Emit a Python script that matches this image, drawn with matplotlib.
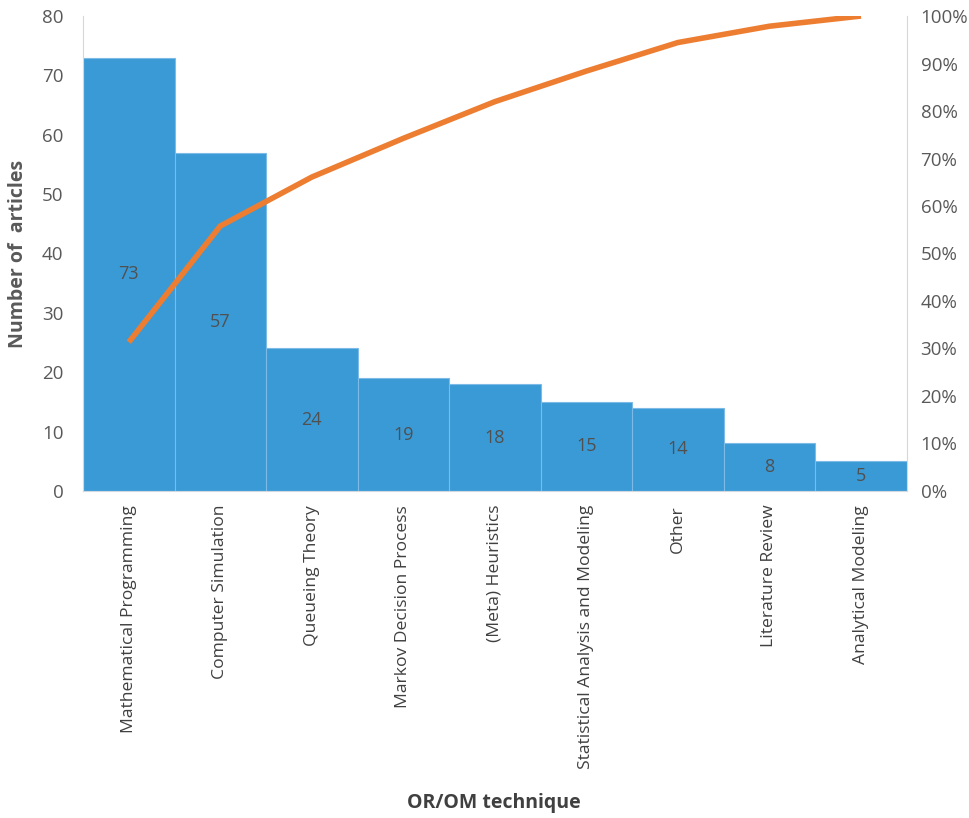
import matplotlib
matplotlib.use('Agg')
import matplotlib.pyplot as plt
import numpy as np
from matplotlib.ticker import PercentFormatter

plt.rcParams['font.family'] = ['Open Sans', 'DejaVu Sans']

##数据
techniques = ['Mathematical Programming', 'Computer Simulation', 'Queueing Theory',
              'Markov Decision Process', '(Meta) Heuristics',
              'Statistical Analysis and Modeling', 'Other', 'Literature Review',
              'Analytical Modeling']
articles = [73, 57, 24, 19, 18, 15, 14, 8, 5]

cum_share = np.cumsum(articles) / sum(articles)
x = np.arange(len(techniques))

fig = plt.figure(figsize=(9.69, 8.18), dpi=100)
ax = fig.add_axes([0.0857, 0.3998, 0.850, 0.5806])

ax.bar(x, articles, width=1.0, color='#3a9ad6', edgecolor='#7dbbe6', linewidth=0.8)
for xi, v in zip(x, articles):
    ax.text(xi, v / 2.0, str(v), ha='center', va='center', fontsize=13, color='#505050')

ax.set_xlim(-0.5, len(techniques) - 0.5)
ax.set_ylim(0, 80)
ax.set_yticks(range(0, 81, 10))
ax.set_xticks(x)
ax.set_xticklabels(techniques, rotation=90, fontsize=12.6, color='#404040')
ax.tick_params(axis='y', labelsize=13.5, colors='#595959', length=0, pad=14)
ax.tick_params(axis='x', length=0, pad=10)
ax.set_ylabel('Number of  articles', fontsize=14, fontweight='bold', color='#595959', labelpad=10)
fig.text(0.51, 1 - 803 / 818, 'OR/OM technique', fontsize=14, fontweight='bold',
         color='#404040', ha='center', va='center')

for s in ['top', 'right']:
    ax.spines[s].set_visible(False)
for s in ['left', 'bottom']:
    ax.spines[s].set_color('#d0d8e0')

ax2 = ax.twinx()
ax2.plot(x, cum_share, color='#ed7d31', linewidth=4, solid_capstyle='butt')
ax2.set_ylim(0, 1)
ax2.set_yticks(np.arange(0, 1.01, 0.1))
ax2.yaxis.set_major_formatter(PercentFormatter(1.0, decimals=0))
ax2.tick_params(axis='y', labelsize=13.5, colors='#595959', length=0, pad=10)
for s in ['top', 'left', 'bottom']:
    ax2.spines[s].set_visible(False)
ax2.spines['right'].set_color('#d0d8e0')

plt.savefig('out.png', dpi=100)
plt.close()
